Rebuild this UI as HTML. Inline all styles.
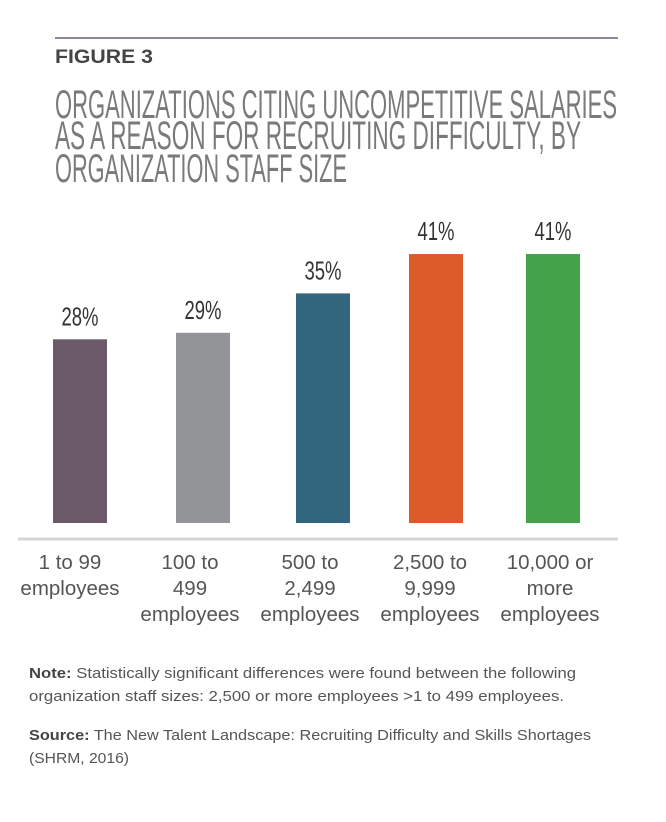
<!DOCTYPE html>
<html><head><meta charset="utf-8"><style>
html,body{margin:0;padding:0;background:#fff;width:666px;height:822px;overflow:hidden}
svg{display:block;font-family:"Liberation Sans",sans-serif}
</style></head><body>
<svg id="chart" width="666" height="822" viewBox="0 0 666 822" xmlns="http://www.w3.org/2000/svg">
<line x1="55" y1="38" x2="618" y2="38" stroke="#6a5f78" stroke-width="1.5"/>
<text x="55" y="63" font-size="19" font-weight="bold" fill="#444" textLength="98" lengthAdjust="spacingAndGlyphs">FIGURE 3</text>
<g fill="#7a7a7a" font-size="40">
<text x="55" y="118" textLength="562" lengthAdjust="spacingAndGlyphs">ORGANIZATIONS CITING UNCOMPETITIVE SALARIES</text>
<text x="55" y="149" textLength="526" lengthAdjust="spacingAndGlyphs">AS A REASON FOR RECRUITING DIFFICULTY, BY</text>
<text x="55" y="182" textLength="292" lengthAdjust="spacingAndGlyphs">ORGANIZATION STAFF SIZE</text>
</g>
<g id="bars"></g>
<line x1="18" y1="539" x2="618" y2="539" stroke="#d4d4d6" stroke-width="3"/>
<g id="labels" fill="#555" font-size="20.5" text-anchor="middle"></g>
<g fill="#555" font-size="14.5">
<text x="29" y="678" textLength="547" lengthAdjust="spacingAndGlyphs"><tspan font-weight="bold" fill="#444">Note:</tspan> Statistically significant differences were found between the following</text>
<text x="29" y="701" textLength="535" lengthAdjust="spacingAndGlyphs">organization staff sizes: 2,500 or more employees &gt;1 to 499 employees.</text>
</g>
<g fill="#555" font-size="14.5">
<text x="29" y="740" textLength="562" lengthAdjust="spacingAndGlyphs"><tspan font-weight="bold" fill="#444">Source:</tspan> The New Talent Landscape: Recruiting Difficulty and Skills Shortages</text>
<text x="29" y="763" textLength="100" lengthAdjust="spacingAndGlyphs">(SHRM, 2016)</text>
</g>
</svg>
<script>
const categories = [["1 to 99","employees"],["100 to","499","employees"],["500 to","2,499","employees"],["2,500 to","9,999","employees"],["10,000 or","more","employees"]];
const values = [28, 29, 35, 41, 41];
const valueLabels = ["28%","29%","35%","41%","41%"];
const colors = ["#6c5a6b","#939497","#32667f","#dc5a27","#44a24b"];
const NS = "http://www.w3.org/2000/svg";
const baseY = 523, pxPer = 6.56, barW = 54;
const barCenters = [80, 203, 323, 436, 553];
function xCenter(i){ return barCenters[i]; }
function labelCenter(i){ return 70 + i * 120; }
function yScale(v){ return baseY - v * pxPer; }
const bars = document.getElementById('bars');
const labels = document.getElementById('labels');
values.forEach((v,i)=>{
  const r = document.createElementNS(NS,'rect');
  
  
  r.setAttribute('x', xCenter(i)-barW/2);
  r.setAttribute('y', yScale(v));
  r.setAttribute('width', barW);
  r.setAttribute('height', baseY - yScale(v));
  r.setAttribute('fill', colors[i]);
  bars.appendChild(r);
  const t = document.createElementNS(NS,'text');
  
  
  t.setAttribute('x', xCenter(i));
  t.setAttribute('y', yScale(v)-14);
  t.setAttribute('text-anchor','middle');
  t.setAttribute('font-size','26');
  t.setAttribute('fill','#333');
  t.setAttribute('textLength','37');
  t.setAttribute('lengthAdjust','spacingAndGlyphs');
  t.textContent = valueLabels[i];
  bars.appendChild(t);
  categories[i].forEach((line,j)=>{
    const c = document.createElementNS(NS,'text');
    
    
    c.setAttribute('x', labelCenter(i));
    c.setAttribute('y', 569 + j*26);
    c.textContent = line;
    labels.appendChild(c);
  });
});
</script>
</body></html>
